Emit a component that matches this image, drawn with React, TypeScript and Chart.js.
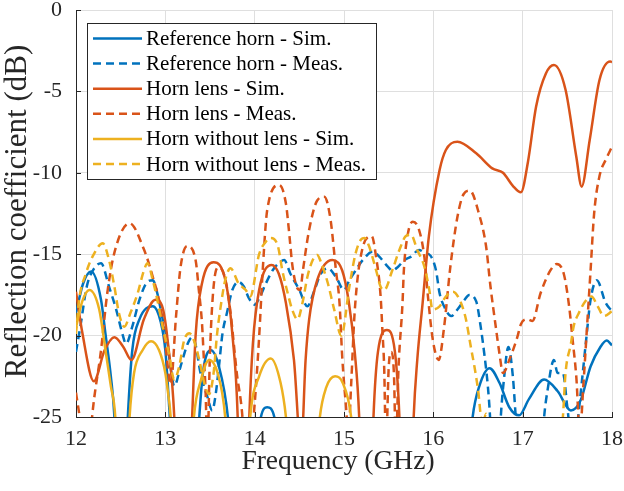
import React, { useEffect, useRef } from 'react';
import { Chart, registerables } from 'chart.js';

Chart.register(...registerables);

const FONT = '"Liberation Serif", "Times New Roman", Times, serif';

// Frequency ticks / dB ticks
const xTickValues = [12, 13, 14, 15, 16, 17, 18];
const yTickValues = [0, -5, -10, -15, -20, -25];

const xAxisTitle = 'Frequency (GHz)';
const yAxisTitle = 'Reflection coefficient (dB)';

const seriesLabels = [
  'Reference horn - Sim.',
  'Reference horn - Meas.',
  'Horn lens - Sim.',
  'Horn lens - Meas.',
  'Horn without lens - Sim.',
  'Horn without lens - Meas.',
];

// Reference horn - Sim.
const refSimF = [12.0, 12.08, 12.17, 12.28, 12.33, 12.39, 12.43, 12.5, 12.58, 12.63, 12.71, 12.86, 12.95, 13.0, 13.05, 13.2, 13.38, 13.42, 13.51, 13.6, 13.7, 13.9, 14.07, 14.14, 14.22, 14.4, 16.2, 16.44, 16.515, 16.63, 16.74, 16.85, 16.96, 17.07, 17.24, 17.39, 17.54, 17.65, 17.76, 17.87, 17.94, 18.0];
const refSimDb = [-18.6, -16.8, -16.07, -17.8, -19.9, -22.5, -25, -35, -25, -20.9, -19.0, -18.2, -19.2, -20.9, -25, -40, -25, -22.3, -20.9, -21.9, -25, -40, -25, -24.4, -25, -40, -40, -25, -23.1, -22.0, -22.9, -24.4, -24.9, -23.9, -22.7, -23.4, -24.6, -23.96, -21.9, -20.7, -20.3, -20.6];

// Reference horn - Meas.
const refMeasF = [12.0, 12.05, 12.12, 12.2, 12.28, 12.37, 12.45, 12.52, 12.56, 12.63, 12.71, 12.8, 12.86, 12.91, 12.97, 13.02, 13.06, 13.1, 13.17, 13.25, 13.3, 13.34, 13.39, 13.47, 13.525, 13.56, 13.6, 13.64, 13.69, 13.75, 13.82, 13.88, 13.935, 14.0, 14.06, 14.125, 14.2, 14.29, 14.33, 14.4, 14.5, 14.59, 14.67, 14.74, 14.82, 14.91, 15.0, 15.06, 15.13, 15.21, 15.32, 15.395, 15.49, 15.54, 15.6, 15.675, 15.75, 15.84, 15.9, 15.97, 16.03, 16.07, 16.12, 16.2, 16.27, 16.35, 16.4, 16.48, 16.53, 16.57, 16.61, 16.635, 16.69, 16.755, 16.79, 16.84, 16.89, 16.92, 16.96, 17.1, 17.2, 17.24, 17.28, 17.35, 17.39, 17.45, 17.5, 17.56, 17.61, 17.65, 17.71, 17.76, 17.83, 17.93, 18.0];
const refMeasDb = [-21.0, -19.4, -17.0, -15.9, -15.56, -17.0, -18.4, -19.9, -20.5, -19.45, -17.8, -16.7, -16.6, -17.4, -19.0, -20.3, -22.0, -23.1, -21.9, -20.5, -20.1, -20.6, -22.2, -23.75, -24.6, -23.75, -21.9, -19.86, -18.6, -17.2, -16.7, -17.0, -17.7, -18.1, -17.6, -16.8, -16.0, -15.46, -15.36, -16.2, -17.2, -18.2, -17.2, -16.2, -15.87, -16.4, -17.2, -16.6, -16.0, -15.36, -14.85, -15.15, -15.77, -16.0, -15.8, -15.36, -15.15, -14.74, -14.9, -15.1, -16.0, -17.4, -18.2, -18.8, -18.4, -17.8, -17.5, -17.9, -19.45, -21.1, -23.1, -25, -32, -25, -22.7, -20.7, -22.5, -24.8, -28, -35, -28, -25, -23.3, -21.5, -22.3, -22.3, -24.4, -27, -25.5, -23.5, -20.3, -17.8, -16.6, -18.0, -18.5];

// Horn lens - Sim.
const lensSimF = [12.0, 12.07, 12.2, 12.32, 12.43, 12.53, 12.62, 12.76, 12.89, 12.97, 13.03, 13.1, 13.19, 13.3, 13.34, 13.41, 13.54, 13.68, 13.75, 13.81, 13.87, 13.94, 13.98, 14.05, 14.19, 14.27, 14.35, 14.44, 14.52, 14.57, 14.61, 14.7, 14.87, 14.98, 15.05, 15.12, 15.17, 15.25, 15.33, 15.38, 15.48, 15.57, 15.62, 15.7, 15.78, 15.82, 15.88, 15.95, 16.07, 16.14, 16.27, 16.48, 16.66, 16.78, 16.89, 16.98, 17.06, 17.15, 17.26, 17.35, 17.48, 17.6, 17.66, 17.75, 17.86, 17.98, 18.0];
const lensSimDb = [-17.3, -19.8, -22.8, -20.9, -20.1, -20.7, -21.5, -19.0, -17.8, -18.3, -20.5, -25, -40, -25, -19.9, -16.8, -15.5, -16.8, -19.9, -25, -40, -25, -20.5, -17.2, -15.66, -16.2, -18.0, -21.5, -27, -21.5, -19.0, -16.6, -15.36, -16.0, -17.8, -21, -25, -40, -25, -21.0, -19.66, -21.0, -25, -40, -25, -21.5, -18.0, -13.9, -9.83, -8.6, -8.09, -8.8, -9.73, -10.0, -10.8, -11.2, -9.3, -5.94, -3.9, -3.38, -4.9, -9.0, -10.85, -8.0, -4.3, -3.17, -3.2];

// Horn lens - Meas.
const lensMeasF = [12.0, 12.05, 12.11, 12.18, 12.28, 12.35, 12.43, 12.6, 12.76, 12.86, 12.95, 13.0, 13.06, 13.12, 13.17, 13.245, 13.34, 13.375, 13.41, 13.43, 13.45, 13.47, 13.5, 13.54, 13.6, 13.67, 13.73, 13.8, 13.86, 13.91, 13.97, 14.0, 14.05, 14.09, 14.14, 14.275, 14.35, 14.39, 14.42, 14.47, 14.51, 14.54, 14.61, 14.7, 14.78, 14.85, 14.91, 14.95, 14.98, 15.02, 15.05, 15.08, 15.12, 15.2, 15.31, 15.36, 15.41, 15.43, 15.45, 15.47, 15.5, 15.53, 15.56, 15.58, 15.61, 15.655, 15.67, 15.71, 15.77, 15.84, 15.9, 15.94, 15.98, 16.02, 16.06, 16.12, 16.19, 16.27, 16.34, 16.41, 16.51, 16.59, 16.64, 16.7, 16.74, 16.78, 16.85, 16.94, 16.98, 17.05, 17.11, 17.2, 17.31, 17.38, 17.46, 17.52, 17.56, 17.6, 17.64, 17.68, 17.72, 17.76, 17.8, 17.86, 17.93, 18.0];
const lensMeasDb = [-23.5, -25.5, -30, -25, -20.9, -17.4, -14.9, -13.1, -14.7, -16.4, -18.4, -20.5, -23.0, -18.8, -15.8, -14.5, -15.4, -17.2, -19.2, -21.3, -23.3, -27, -21, -17, -15.8, -16.5, -18.6, -22.3, -24.8, -29, -26, -24.2, -20.1, -16.0, -12.3, -10.75, -11.9, -13.9, -15.6, -17.0, -17.2, -16.0, -13.5, -11.7, -11.47, -12.9, -16.0, -18.0, -21.3, -24.2, -26, -23, -18.5, -14.8, -13.9, -15.2, -17.6, -19.7, -22, -27, -22, -21, -22.5, -27, -22, -18.0, -16.0, -13.9, -13.0, -13.5, -15.2, -17.6, -19.7, -21.0, -21.5, -19.5, -15.8, -12.7, -11.3, -11.1, -12.5, -14.5, -17.0, -19.5, -21.1, -22.3, -21.5, -20.1, -19.3, -19.0, -19.1, -17.4, -16.0, -15.6, -16.2, -18.2, -20.3, -22.5, -26, -23, -19.5, -16, -12.5, -10.2, -9.2, -8.4];

// Horn without lens - Sim.
const noLensSimF = [12.0, 12.07, 12.15, 12.26, 12.33, 12.39, 12.44, 12.52, 12.6, 12.65, 12.745, 12.84, 12.93, 13.0, 13.03, 13.06, 13.18, 13.32, 13.4, 13.49, 13.585, 13.67, 13.81, 13.95, 14.05, 14.18, 14.29, 14.35, 14.54, 14.73, 14.8, 14.9, 14.985, 15.08, 15.3];
const noLensSimDb = [-19.5, -17.9, -17.2, -18.4, -20.9, -23.1, -25, -35, -25, -22.3, -20.9, -20.35, -20.9, -22.3, -23.5, -25, -38, -25, -22.7, -21.5, -22.3, -25, -38, -25, -22.5, -21.4, -22.9, -25, -38, -25, -23.2, -22.5, -22.9, -25, -40];

// Horn without lens - Meas.
const noLensMeasF = [12.0, 12.035, 12.11, 12.185, 12.3, 12.37, 12.43, 12.48, 12.54, 12.61, 12.69, 12.76, 12.8, 12.86, 12.91, 12.97, 13.04, 13.1, 13.155, 13.21, 13.27, 13.32, 13.38, 13.44, 13.49, 13.54, 13.58, 13.62, 13.67, 13.73, 13.82, 13.9, 13.95, 14.05, 14.125, 14.18, 14.26, 14.31, 14.37, 14.42, 14.48, 14.535, 14.59, 14.65, 14.7, 14.74, 14.82, 14.89, 14.97, 15.06, 15.13, 15.19, 15.23, 15.28, 15.36, 15.41, 15.45, 15.54, 15.62, 15.69, 15.75, 15.82, 15.9, 15.955, 15.99, 16.07, 16.14, 16.22, 16.31, 16.365, 16.42, 16.46, 16.5, 16.55, 16.59, 16.63, 16.75, 17.2, 17.45, 17.48, 17.54, 17.57, 17.63, 17.7, 17.77, 17.84, 17.91, 18.0];
const noLensMeasDb = [-19.9, -17.8, -16.2, -15.15, -14.33, -15.36, -17.0, -18.6, -19.45, -18.6, -17.4, -16.0, -15.56, -16.6, -17.8, -19.45, -21.1, -22.7, -21.9, -20.3, -19.86, -20.3, -21.5, -23.0, -23.6, -22.3, -19.86, -18.2, -16.6, -15.87, -16.8, -17.2, -17.6, -15.0, -14.23, -14.0, -14.5, -16.0, -17.4, -18.4, -19.0, -18.0, -16.4, -15.36, -15.05, -15.46, -16.8, -18.4, -20.0, -17.0, -14.95, -14.1, -14.0, -14.5, -16.0, -17.0, -17.2, -16.0, -14.74, -13.9, -13.8, -14.74, -15.77, -17.2, -18.4, -18.2, -17.6, -17.3, -18.0, -19.0, -20.7, -21.9, -23.3, -25.5, -24.8, -26, -33, -33, -25, -22.3, -20.5, -19.45, -18.6, -17.9, -17.6, -18.2, -18.8, -18.5];

const BLUE = '#0072BD';
const ORANGE = '#D95319';
const YELLOW = '#EDB120';
const AXIS = '#262626';
const GRID = '#DFDFDF';
const DASH = [8, 5];

function pts(f: number[], d: number[]) {
  return f.map((x, i) => ({ x, y: d[i] }));
}

const axisTitlesPlugin = {
  id: 'axisTitles',
  afterDraw(chart: any) {
    const { ctx, chartArea } = chart;
    ctx.save();
    ctx.fillStyle = AXIS;
    ctx.textAlign = 'center';
    ctx.textBaseline = 'middle';
    ctx.font = `27.5px ${FONT}`;
    ctx.fillText(xAxisTitle, (chartArea.left + chartArea.right) / 2 - 6, 462);
    ctx.translate(18, (chartArea.top + chartArea.bottom) / 2 - 2);
    ctx.rotate(-Math.PI / 2);
    ctx.font = `31px ${FONT}`;
    ctx.fillText(yAxisTitle, 0, 0);
    ctx.restore();
  },
};

const legendPlugin = {
  id: 'matlabLegend',
  afterDraw(chart: any) {
    const { ctx, chartArea } = chart;
    const x0 = chartArea.left + 11;
    const y0 = chartArea.top + 13;
    const w = 289;
    const h = 156;
    ctx.save();
    ctx.fillStyle = '#ffffff';
    ctx.fillRect(x0, y0, w, h);
    ctx.strokeStyle = AXIS;
    ctx.lineWidth = 1;
    ctx.strokeRect(x0 + 0.5, y0 + 0.5, w, h);
    chart.data.datasets.forEach((ds: any, i: number) => {
      const cy = y0 + 15.5 + i * 25.1;
      ctx.beginPath();
      ctx.setLineDash(ds.borderDash || []);
      ctx.strokeStyle = ds.borderColor;
      ctx.lineWidth = 2.5;
      ctx.moveTo(x0 + 6, cy);
      ctx.lineTo(x0 + 55, cy);
      ctx.stroke();
      ctx.setLineDash([]);
      ctx.fillStyle = '#000000';
      ctx.font = `21px ${FONT}`;
      ctx.textBaseline = 'middle';
      ctx.textAlign = 'left';
      ctx.fillText(ds.label, x0 + 59, cy + 1);
    });
    ctx.restore();
  },
};

const innerTicksPlugin = {
  id: 'innerTicks',
  afterDatasetsDraw(chart: any) {
    const { ctx, chartArea, scales } = chart;
    ctx.save();
    ctx.strokeStyle = AXIS;
    ctx.lineWidth = 1;
    ctx.beginPath();
    xTickValues.forEach((v) => {
      const px = Math.round(scales.x.getPixelForValue(v)) + 0.5;
      ctx.moveTo(px, chartArea.bottom);
      ctx.lineTo(px, chartArea.bottom - 5);
    });
    yTickValues.forEach((v) => {
      const py = Math.round(scales.y.getPixelForValue(v)) + 0.5;
      ctx.moveTo(chartArea.left, py);
      ctx.lineTo(chartArea.left + 5, py);
    });
    ctx.stroke();
    ctx.restore();
  },
};

export default function App() {
  const ref = useRef<HTMLCanvasElement>(null);

  useEffect(() => {
    if (!ref.current) return;
    const series = [
      { f: refSimF, d: refSimDb, c: BLUE, dash: [] as number[] },
      { f: refMeasF, d: refMeasDb, c: BLUE, dash: DASH },
      { f: lensSimF, d: lensSimDb, c: ORANGE, dash: [] as number[] },
      { f: lensMeasF, d: lensMeasDb, c: ORANGE, dash: DASH },
      { f: noLensSimF, d: noLensSimDb, c: YELLOW, dash: [] as number[] },
      { f: noLensMeasF, d: noLensMeasDb, c: YELLOW, dash: DASH },
    ];
    const datasets = series.map((s, i) => ({
      label: seriesLabels[i],
      data: pts(s.f, s.d),
      borderColor: s.c,
      backgroundColor: s.c,
      borderWidth: 2.5,
      borderDash: s.dash,
      pointRadius: 0,
      pointHoverRadius: 0,
      fill: false,
      cubicInterpolationMode: 'monotone' as const,
      clip: 0,
      order: series.length - i,
    }));

    const chart = new Chart(ref.current, {
      type: 'line',
      data: { datasets },
      options: {
        animation: false,
        responsive: false,
        devicePixelRatio: 1,
        events: [],
        layout: { padding: { left: 0, right: 12, top: 10, bottom: 0 } },
        plugins: {
          legend: { display: false },
          tooltip: { enabled: false },
          title: { display: false },
        },
        scales: {
          x: {
            type: 'linear',
            min: 12,
            max: 18,
            afterBuildTicks: (scale: any) => {
              scale.ticks = xTickValues.map((v) => ({ value: v }));
            },
            ticks: {
              font: { family: FONT, size: 22 },
              color: AXIS,
              padding: 9,
              maxRotation: 0,
              callback: (v: any) => String(v),
            },
            grid: { color: GRID, lineWidth: 1, drawTicks: false },
            border: { display: true, color: AXIS, width: 1 },
            title: { display: false },
            afterFit: (scale: any) => {
              scale.height = 74;
              scale.paddingLeft = 0;
              scale.paddingRight = 0;
            },
          },
          y: {
            type: 'linear',
            min: -25,
            max: 0,
            afterBuildTicks: (scale: any) => {
              scale.ticks = yTickValues.slice().reverse().map((v) => ({ value: v }));
            },
            ticks: {
              font: { family: FONT, size: 22 },
              color: AXIS,
              padding: 14,
              callback: (v: any) => String(v),
            },
            grid: { color: GRID, lineWidth: 1, drawTicks: false },
            border: { display: true, color: AXIS, width: 1 },
            title: { display: false },
            afterFit: (scale: any) => {
              scale.width = 76;
              scale.paddingTop = 0;
              scale.paddingBottom = 0;
            },
          },
        },
      },
      plugins: [innerTicksPlugin, legendPlugin, axisTitlesPlugin],
    });
    return () => chart.destroy();
  }, []);

  return (
    <div style={{ position: 'absolute', left: 0, top: 0, width: 624, height: 491, background: '#ffffff' }}>
      <canvas ref={ref} width={624} height={491} style={{ display: 'block' }} />
    </div>
  );
}
